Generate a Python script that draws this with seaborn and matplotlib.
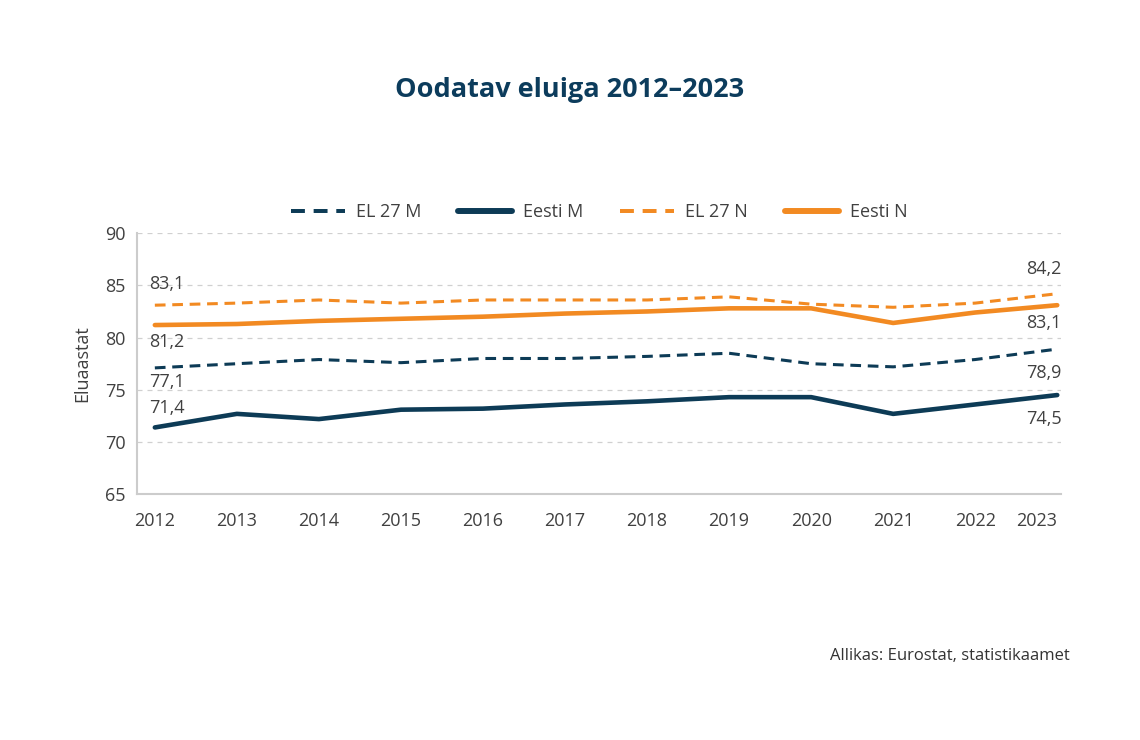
import matplotlib
matplotlib.use('Agg')
import matplotlib.pyplot as plt
import seaborn as sns
import pandas as pd

# Andmed (loetud pildilt)
years = list(range(2012, 2024))
el27_m = [77.1, 77.5, 77.9, 77.6, 78.0, 78.0, 78.2, 78.5, 77.5, 77.2, 77.9, 78.9]
eesti_m = [71.4, 72.7, 72.2, 73.1, 73.2, 73.6, 73.9, 74.3, 74.3, 72.7, 73.6, 74.5]
el27_n = [83.1, 83.3, 83.6, 83.3, 83.6, 83.6, 83.6, 83.9, 83.2, 82.9, 83.3, 84.2]
eesti_n = [81.2, 81.3, 81.6, 81.8, 82.0, 82.3, 82.5, 82.8, 82.8, 81.4, 82.4, 83.1]

navy = '#0d3b56'
orange = '#f28a22'
grey_txt = '#404040'

sns.set_theme(style='white')
plt.rcParams['font.family'] = ['Open Sans', 'DejaVu Sans']

df = pd.DataFrame({'Aasta': years, 'EL 27 M': el27_m, 'Eesti M': eesti_m,
                   'EL 27 N': el27_n, 'Eesti N': eesti_n})

fig = plt.figure(figsize=(11.4, 7.4), dpi=100)
ax = fig.add_axes([0.120, 0.332, 0.811, 0.353])

series = [
    ('EL 27 M', navy, (0, (3.5, 2.2)), 2.2),
    ('Eesti M', navy, '-', 3.3),
    ('EL 27 N', orange, (0, (3.5, 2.2)), 2.2),
    ('Eesti N', orange, '-', 3.3),
]
for name, col, ls, lw in series:
    sns.lineplot(data=df, x='Aasta', y=name, ax=ax, color=col, linestyle=ls,
                 linewidth=lw, label=name)

ax.set_xlim(2011.78, 2023.05)
ax.set_ylim(65, 90)
ax.set_yticks([65, 70, 75, 80, 85, 90])
ax.set_xticks(years)
ax.set_xticklabels([str(y) for y in years])
ax.get_xticklabels()[-1].set_ha('right')
ax.get_xticklabels()[-1].set_x(2023.05)
ax.tick_params(axis='y', length=0, labelsize=13, colors=grey_txt, pad=8)
ax.tick_params(axis='x', length=0, labelsize=13, colors=grey_txt, pad=13)
ax.set_xlabel('')
ax.set_ylabel('Eluaastat', fontsize=13, color=grey_txt, labelpad=10)

ax.grid(axis='y', color='#d0d0d0', linestyle=(0, (4, 4)), linewidth=0.9)
for s in ['top', 'right']:
    ax.spines[s].set_visible(False)
for s in ['left', 'bottom']:
    ax.spines[s].set_color('#cccccc')
    ax.spines[s].set_linewidth(1.5)

# Väärtuste sildid
first, last = years[0], years[-1]
labels = [
    (first, el27_n[0], 15, 'left'), (first, eesti_n[0], -12, 'left'),
    (first, el27_m[0], -10, 'left'), (first, eesti_m[0], 14, 'left'),
    (last, el27_n[-1], 18, 'right'), (last, eesti_n[-1], -13, 'right'),
    (last, el27_m[-1], -17, 'right'), (last, eesti_m[-1], -17, 'right'),
]
for x, y, dy, ha in labels:
    dx = -4 if ha == 'left' else 3
    ax.annotate(f'{y:.1f}'.replace('.', ','), (x, y), xytext=(dx, dy),
                textcoords='offset points', ha=ha, va='center',
                fontsize=13, color=grey_txt)

leg = ax.legend(loc='lower center', bbox_to_anchor=(0.5, 1.0), ncol=4,
                frameon=False, fontsize=13, handlelength=3.0, columnspacing=2.05,
                handletextpad=0.6, borderaxespad=0.25)
for t in leg.get_texts():
    t.set_color(grey_txt)
for h in leg.get_lines():
    h.set_linewidth(h.get_linewidth() * 1.3)

fig.text(0.5, 0.879, 'Oodatav eluiga 2012–2023', ha='center', va='center',
         fontsize=19.5, fontweight='bold', color='#0c3c5c')
fig.text(0.938, 0.114, 'Allikas: Eurostat, statistikaamet', ha='right',
         va='center', fontsize=12, color='#333333')

fig.savefig('out.png', dpi=100, facecolor='white')
